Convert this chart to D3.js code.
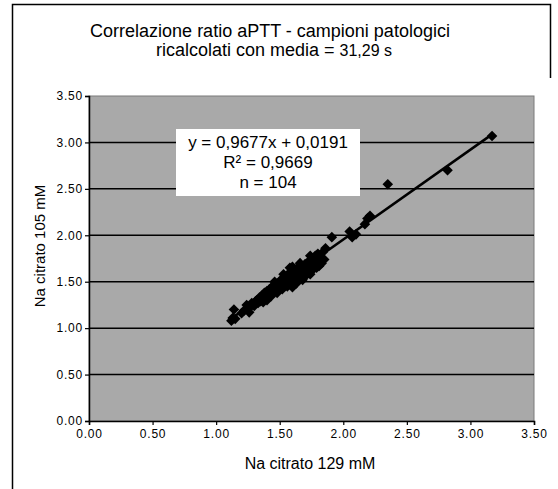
<!DOCTYPE html>
<html>
<head>
<meta charset="utf-8">
<script src="https://cdn.jsdelivr.net/npm/d3@7"></script>
<style>
  body { margin: 0; background: #fff; }
  text { font-family: "Liberation Sans", Arial, sans-serif; fill: #000; }
</style>
</head>
<body>
<script>
// x = Na citrato 129 mM, y = Na citrato 105 mM (ratio aPTT)
var xVals = [1.12, 1.13, 1.14, 1.15, 1.20, 1.22, 1.24, 1.25, 1.27, 1.28,
  1.30, 1.31, 1.32, 1.33, 1.34, 1.35, 1.36, 1.37, 1.38, 1.39,
  1.40, 1.40, 1.41, 1.42, 1.43, 1.44, 1.45, 1.45, 1.46, 1.47,
  1.48, 1.48, 1.49, 1.50, 1.50, 1.51, 1.52, 1.52, 1.53, 1.54,
  1.54, 1.55, 1.56, 1.56, 1.57, 1.58, 1.58, 1.59, 1.60, 1.60,
  1.61, 1.62, 1.62, 1.63, 1.64, 1.64, 1.65, 1.66, 1.66, 1.67,
  1.68, 1.68, 1.69, 1.70, 1.70, 1.71, 1.72, 1.72, 1.73, 1.74,
  1.75, 1.75, 1.76, 1.77, 1.78, 1.78, 1.79, 1.80, 1.80, 1.81,
  1.82, 1.83, 1.84, 1.85, 1.86, 1.58, 1.53, 1.46, 1.60, 1.66,
  1.43, 1.37, 1.26, 1.91, 2.05, 2.07, 2.10, 2.17, 2.19, 2.21,
  2.35, 2.82, 3.17, 1.74];
var yVals = [1.08, 1.11, 1.20, 1.10, 1.16, 1.19, 1.25, 1.21, 1.23, 1.27,
  1.24, 1.29, 1.30, 1.27, 1.33, 1.29, 1.35, 1.32, 1.38, 1.34,
  1.40, 1.30, 1.37, 1.42, 1.36, 1.44, 1.39, 1.46, 1.41, 1.48,
  1.43, 1.38, 1.47, 1.50, 1.44, 1.52, 1.46, 1.42, 1.49, 1.55,
  1.47, 1.51, 1.57, 1.45, 1.53, 1.49, 1.60, 1.55, 1.44, 1.58,
  1.51, 1.62, 1.56, 1.48, 1.60, 1.65, 1.54, 1.62, 1.58, 1.67,
  1.52, 1.63, 1.60, 1.69, 1.56, 1.64, 1.71, 1.60, 1.66, 1.58,
  1.73, 1.68, 1.63, 1.75, 1.70, 1.78, 1.65, 1.72, 1.80, 1.67,
  1.76, 1.70, 1.82, 1.74, 1.86, 1.65, 1.58, 1.50, 1.66, 1.70,
  1.34, 1.28, 1.17, 1.98, 2.04, 1.98, 2.01, 2.12, 2.18, 2.21,
  2.55, 2.70, 3.07, 1.78];

var slope = 0.9677;
var intercept = 0.0191;
var tickValues = [0, 0.5, 1, 1.5, 2, 2.5, 3, 3.5];
var gridValues = [0.5, 1, 1.5, 2, 2.5, 3];
var titleLines = ["Correlazione ratio aPTT - campioni patologici", "ricalcolati con media = "];
var titleValue = "31,29 s";
var noteLines = ["y = 0,9677x + 0,0191", "R\u00b2 = 0,9669", "n = 104"];

var W = 558, H = 489;
var plotL = 89, plotR = 534, plotT = 96, plotB = 421;

var svg = d3.select("body").
append("svg").
attr("width", W).
attr("height", H);

// chart frame (cropped at the bottom of the picture)
svg.append("path").
attr("d", "M12.5,489 L12.5,4.5 L550.5,4.5 L550.5,78").
attr("fill", "none").
attr("stroke", "#000").
attr("stroke-width", 1.5);

// title
svg.append("text").
attr("x", 270).
attr("y", 37).
attr("text-anchor", "middle").
style("font-size", "18px").
text(titleLines[0]);

var t2 = svg.append("text").
attr("x", 274).
attr("y", 56).
attr("text-anchor", "middle").
style("font-size", "18px");
t2.append("tspan").text(titleLines[1]);
t2.append("tspan").style("font-size", "16px").text(titleValue);

var xScale = d3.scaleLinear().domain([0, 3.5]).range([plotL, plotR]);
var yScale = d3.scaleLinear().domain([0, 3.5]).range([plotB, plotT]);

// plot area
svg.append("rect").
attr("x", plotL).
attr("y", plotT).
attr("width", plotR - plotL).
attr("height", plotB - plotT).
attr("fill", "#a9a9a9").
attr("stroke", "#7a7a7a").
attr("stroke-width", 1);

svg.selectAll(".grid").
data(gridValues).
enter().
append("line").
attr("class", "grid").
attr("x1", plotL).
attr("x2", plotR).
attr("y1", function (d) {return yScale(d);}).
attr("y2", function (d) {return yScale(d);}).
attr("stroke", "#000").
attr("stroke-width", 1.5);

// axes
var xAxis = d3.axisBottom(xScale).tickValues(tickValues).tickFormat(d3.format(".2f")).tickSize(4).tickPadding(4);
var yAxis = d3.axisLeft(yScale).tickValues(tickValues).tickFormat(d3.format(".2f")).tickSize(4).tickPadding(4);

var gx = svg.append("g").
attr("transform", "translate(0," + plotB + ")").
call(xAxis);

var gy = svg.append("g").
attr("transform", "translate(" + plotL + ",0)").
call(yAxis);

[gx, gy].forEach(function (g) {
	g.select(".domain").attr("stroke", "#000").attr("stroke-width", 1.5);
	g.selectAll(".tick line").attr("stroke", "#000").attr("stroke-width", 1.2);
	g.selectAll(".tick text").
	style("font-family", "'Liberation Sans', Arial, sans-serif").
	style("font-size", "12px").
	style("letter-spacing", "0.8px").
	attr("fill", "#000");
});
gy.selectAll(".tick text").attr("x", -6);

// axis titles
svg.append("text").
attr("x", 310).
attr("y", 469).
attr("text-anchor", "middle").
style("font-size", "16px").
text("Na citrato 129 mM");

svg.append("text").
attr("transform", "translate(45,246) rotate(-90)").
attr("text-anchor", "middle").
style("font-size", "15px").
text("Na citrato 105 mM");

// points
var points = xVals.map(function (x, i) {return [x, yVals[i]];});
var diamond = d3.symbol().type(d3.symbolSquare).size(56);

svg.selectAll(".pt").
data(points).
enter().
append("path").
attr("class", "pt").
attr("d", diamond).
attr("transform", function (d) {return "translate(" + xScale(d[0]) + "," + yScale(d[1]) + ") rotate(45)";}).
attr("fill", "#000");

// linear trend line over the data range
var xExt = d3.extent(xVals);
svg.append("line").
attr("x1", xScale(xExt[0])).
attr("y1", yScale(slope * xExt[0] + intercept)).
attr("x2", xScale(xExt[1])).
attr("y2", yScale(slope * xExt[1] + intercept)).
attr("stroke", "#000").
attr("stroke-width", 2.5);

// equation box
svg.append("rect").
attr("x", 176).
attr("y", 129).
attr("width", 184).
attr("height", 67).
attr("fill", "#fff");

svg.selectAll(".note").
data(noteLines).
enter().
append("text").
attr("class", "note").
attr("x", 268).
attr("y", function (d, i) {return 148 + i * 20;}).
attr("text-anchor", "middle").
style("font-size", "17px").
text(function (d) {return d;});
</script>
</body>
</html>
